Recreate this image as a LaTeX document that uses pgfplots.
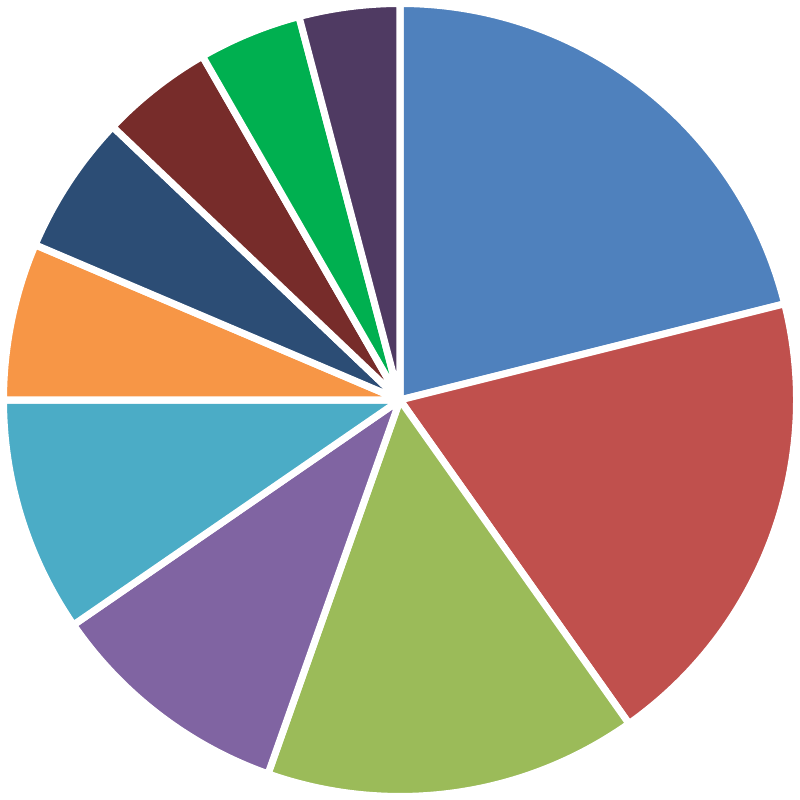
\documentclass[border=0pt]{standalone}
\usepackage{pgfplots}
\usepackage{pgfplotstable}
\pgfplotsset{compat=1.18}

\definecolor{s1}{HTML}{4F81BD}
\definecolor{s2}{HTML}{C0504D}
\definecolor{s3}{HTML}{9BBB59}
\definecolor{s4}{HTML}{8064A2}
\definecolor{s5}{HTML}{4BACC6}
\definecolor{s6}{HTML}{F79646}
\definecolor{s7}{HTML}{2C4D75}
\definecolor{s8}{HTML}{772C2A}
\definecolor{s9}{HTML}{00B050}
\definecolor{s10}{HTML}{4F3A62}

% slice shares in percent, clockwise from 12 o'clock
\pgfplotstableread{
value colour
21.1 s1
19.1 s2
15.2 s3
10.0 s4
9.6  s5
6.4  s6
5.7  s7
4.6  s8
4.2  s9
4.1  s10
}\piedata

\begin{document}
\begin{tikzpicture}
\begin{axis}[
    hide axis,
    x=4cm, y=4cm,
    xmin=-1, xmax=1, ymin=-1, ymax=1,
    clip=false,
    anchor=south west, at={(0,0)},
  ]
  \pgfplotstablegetrowsof{\piedata}
  \pgfmathtruncatemacro{\lastrow}{\pgfplotsretval-1}
  \def\startangle{90}
  \pgfplotsforeachungrouped \i in {0,...,\lastrow}{
    \pgfplotstablegetelem{\i}{value}\of\piedata
    \let\share\pgfplotsretval
    \pgfplotstablegetelem{\i}{colour}\of\piedata
    \let\col\pgfplotsretval
    \pgfmathsetmacro{\stopangle}{\startangle-3.6*\share}
    \edef\slice{\noexpand\filldraw[fill=\col, draw=white, line width=2pt, line join=round]
      (axis cs:0,0) -- ++(\startangle:3.965cm)
      arc[start angle=\startangle, end angle=\stopangle, radius=3.965cm] -- cycle;}
    \slice
    \global\let\startangle\stopangle
  }
\end{axis}
\pgfresetboundingbox
\useasboundingbox (0,0) rectangle (8cm,8cm);
\end{tikzpicture}
\end{document}
